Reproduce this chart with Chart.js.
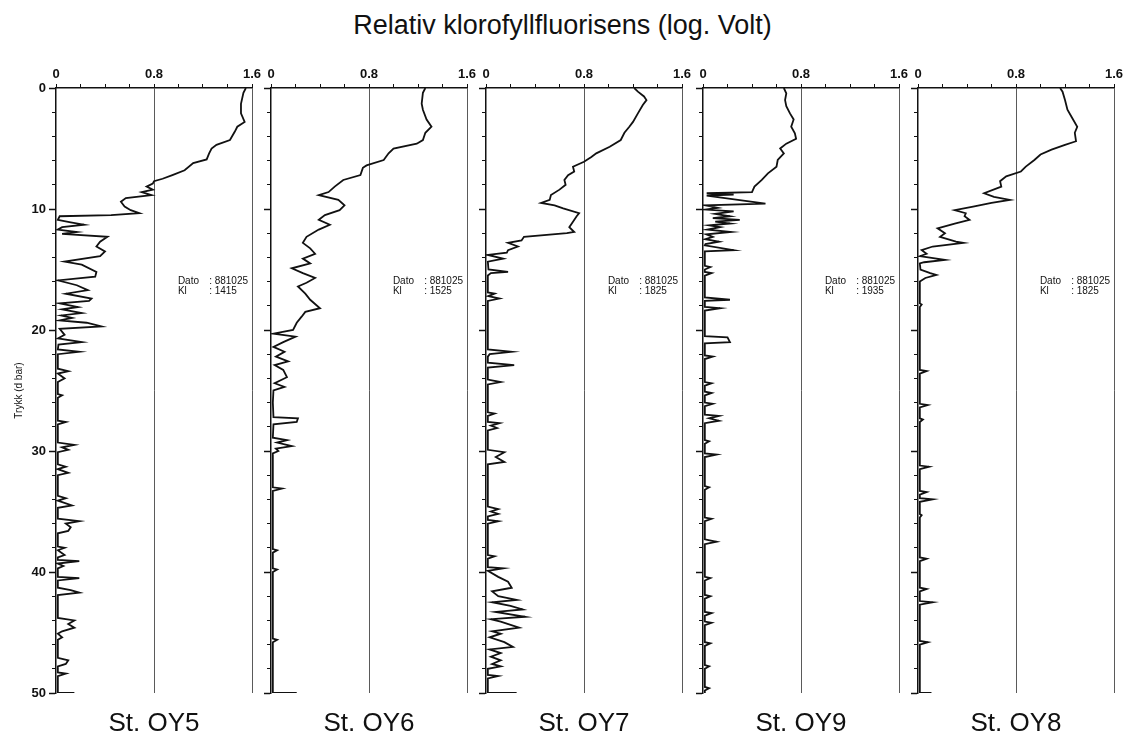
<!DOCTYPE html>
<html>
<head>
<meta charset="utf-8">
<script src="https://cdn.jsdelivr.net/npm/chart.js@4.4.1/dist/chart.umd.min.js"></script>
<style>
html,body{margin:0;padding:0;background:#fff;}
#wrap{position:relative;width:1129px;height:739px;overflow:hidden;background:#fff;}
#wrap canvas{position:absolute;left:0;top:0;}
#title{position:absolute;left:0;width:1125px;top:10px;line-height:31px;text-align:center;font-family:"Liberation Sans",Arial,sans-serif;font-size:27px;color:#111;}
</style>
</head>
<body>
<div id="wrap">
  <div id="title">Relativ klorofyllfluorisens (log. Volt)</div>
  <canvas id="c0" width="1129" height="739"></canvas>
  <canvas id="c1" width="1129" height="739"></canvas>
  <canvas id="c2" width="1129" height="739"></canvas>
  <canvas id="c3" width="1129" height="739"></canvas>
  <canvas id="c4" width="1129" height="739"></canvas>
</div>
<script>
// ---------- DATA ----------
const stationNames = ['St. OY5', 'St. OY6', 'St. OY7', 'St. OY9', 'St. OY8'];
const infoLabels = ['Dato', 'Kl'];
const infoDates = ['881025', '881025', '881025', '881025', '881025'];
const infoTimes = ['1415', '1525', '1825', '1935', '1825'];
const xTickLabels = ['0', '0.8', '1.6'];
const yAxisTitle = 'Trykk (d bar)';

// St. OY5
const oy5Depth = [0,0.4,1.3,2.1,2.8,3.2,3.6,4.3,4.7,5.0,5.4,5.9,6.2,6.8,7.2,7.5,7.7,7.9,8.15,8.4,8.6,8.85,9.1,9.4,9.8,10.1,10.35,10.5,10.6,10.9,11.1,11.3,11.5,11.7,11.9,12.05,12.3,12.7,13.1,13.5,13.9,14.35,14.6,15.2,15.6,15.9,16.3,16.7,17.0,17.4,17.6,17.8,18.1,18.3,18.6,18.8,19.0,19.2,19.4,19.7,19.9,20.4,20.7,21.0,21.2,21.6,21.8,22.0,23.2,23.4,23.6,24.0,24.3,25.3,25.4,25.6,27.5,27.6,27.8,29.3,29.5,29.7,29.9,30.1,31.1,31.3,31.5,31.8,32.0,33.7,33.9,34.1,34.5,34.7,35.6,35.8,36.0,36.3,36.6,36.8,37.9,38.0,38.2,38.6,38.8,39.0,39.1,39.3,39.5,39.7,40.4,40.5,40.7,41.3,41.5,41.7,41.9,43.8,44.0,44.3,44.6,44.9,45.1,45.4,45.6,47.1,47.3,47.6,47.8,48.3,48.4,48.6,50,50];
const oy5Value = [1.55,1.53,1.51,1.51,1.54,1.48,1.46,1.42,1.31,1.27,1.25,1.23,1.12,1.05,0.95,0.87,0.80,0.79,0.74,0.79,0.70,0.78,0.57,0.53,0.56,0.61,0.68,0.45,0.03,0.015,0.12,0.23,0.05,0.015,0.17,0.05,0.42,0.36,0.33,0.40,0.36,0.07,0.21,0.33,0.32,0.015,0.17,0.26,0.08,0.29,0.27,0.03,0.18,0.05,0.21,0.04,0.13,0.03,0.25,0.37,0.03,0.07,0.015,0.21,0.02,0.015,0.19,0.015,0.015,0.10,0.015,0.07,0.015,0.015,0.05,0.015,0.015,0.08,0.015,0.015,0.15,0.05,0.10,0.015,0.015,0.08,0.015,0.10,0.015,0.015,0.08,0.015,0.13,0.015,0.015,0.19,0.08,0.12,0.10,0.015,0.015,0.07,0.015,0.07,0.015,0.015,0.19,0.015,0.06,0.015,0.015,0.19,0.015,0.015,0.12,0.19,0.015,0.015,0.15,0.10,0.15,0.05,0.015,0.05,0.015,0.015,0.10,0.08,0.015,0.015,0.08,0.015,0.015,0.15];

// St. OY6
const oy6Depth = [0,0.4,1.3,1.8,2.6,3.2,3.7,4.3,4.6,5.0,5.4,5.95,6.4,6.6,7.2,7.6,8.15,8.6,8.85,9.25,9.7,10.1,10.5,10.9,11.3,11.7,12.3,12.8,13.25,13.7,14.1,14.5,14.9,15.3,15.7,16.1,16.4,17.0,17.5,18.2,18.5,18.9,19.4,20.0,20.3,20.55,21.0,21.4,21.8,22.2,22.6,22.9,23.3,23.9,24.4,24.7,25.0,26.0,27.2,27.3,27.6,27.8,28.9,29.1,29.3,29.6,29.8,30.0,30.2,33.0,33.1,33.3,38.1,38.2,38.4,39.7,39.8,40.0,45.5,45.6,45.8,50,50];
const oy6Value = [1.26,1.24,1.23,1.24,1.27,1.31,1.26,1.24,1.19,1.00,0.96,0.92,0.78,0.75,0.73,0.59,0.52,0.47,0.39,0.55,0.60,0.56,0.44,0.39,0.48,0.39,0.29,0.26,0.32,0.36,0.26,0.32,0.17,0.26,0.36,0.29,0.22,0.28,0.32,0.40,0.28,0.25,0.21,0.18,0.02,0.20,0.10,0.02,0.11,0.04,0.14,0.03,0.10,0.13,0.03,0.11,0.02,0.015,0.02,0.22,0.21,0.02,0.015,0.13,0.05,0.17,0.04,0.06,0.015,0.015,0.09,0.015,0.015,0.05,0.015,0.015,0.05,0.015,0.015,0.05,0.015,0.015,0.21];

// St. OY7
const oy7Depth = [0,0.3,0.7,1.0,1.4,2.1,2.8,3.2,3.7,4.3,4.85,5.4,5.7,6.1,6.5,6.9,7.2,7.6,8.0,8.4,8.85,9.25,9.5,9.7,9.95,10.35,10.6,11.05,11.5,11.9,12.0,12.3,12.6,12.8,13.1,13.4,13.6,13.8,14.1,14.35,15.0,15.2,15.3,15.5,16.9,17.0,17.2,17.4,17.6,21.6,21.8,22.0,22.2,22.7,22.9,23.1,24.1,24.3,24.5,26.8,26.9,27.1,27.6,27.7,27.9,28.1,28.3,29.9,30.1,30.5,30.9,31.1,34.6,34.8,35.0,35.2,35.4,35.7,35.8,36.0,38.6,38.7,38.9,39.6,39.7,39.9,40.4,40.8,41.3,41.6,42.0,42.3,42.5,42.8,43.1,43.3,43.7,43.9,44.1,44.6,44.9,45.1,45.4,45.8,46.2,46.4,46.7,47.0,47.3,47.6,47.8,48.0,48.5,48.6,48.8,50,50];
const oy7Value = [1.21,1.24,1.29,1.31,1.28,1.24,1.20,1.17,1.13,1.10,1.01,0.90,0.86,0.80,0.71,0.72,0.67,0.64,0.65,0.60,0.53,0.52,0.45,0.56,0.63,0.76,0.74,0.71,0.68,0.72,0.66,0.31,0.29,0.18,0.26,0.18,0.17,0.015,0.14,0.015,0.02,0.18,0.04,0.015,0.015,0.07,0.02,0.11,0.015,0.015,0.21,0.03,0.015,0.015,0.23,0.015,0.015,0.12,0.015,0.015,0.07,0.015,0.015,0.11,0.04,0.09,0.015,0.015,0.15,0.08,0.15,0.015,0.015,0.10,0.04,0.10,0.015,0.015,0.10,0.015,0.015,0.07,0.015,0.015,0.14,0.015,0.10,0.18,0.21,0.05,0.10,0.25,0.05,0.20,0.30,0.08,0.32,0.04,0.12,0.27,0.05,0.12,0.03,0.15,0.22,0.03,0.12,0.04,0.12,0.05,0.12,0.015,0.015,0.10,0.015,0.015,0.25];

// St. OY9
const oy9Depth = [0,0.44,1.0,1.5,2.1,2.6,3.2,3.75,4.2,4.6,5.0,5.4,5.95,6.5,7.05,7.6,8.15,8.6,8.7,8.8,8.9,9.55,9.7,9.9,10.05,10.2,10.4,10.6,10.75,10.9,11.05,11.2,11.35,11.5,11.7,11.9,12.1,12.3,12.5,12.7,12.9,13.0,13.4,13.5,14.7,14.8,15.0,15.2,15.3,15.5,17.3,17.5,17.6,18.1,18.2,18.4,20.5,20.6,21.0,21.1,22.1,22.2,22.4,24.3,24.4,24.6,25.1,25.2,25.4,26.0,26.1,26.3,27.0,27.1,27.3,27.5,27.7,29.1,29.2,29.4,30.2,30.3,30.5,32.9,33.0,33.2,35.5,35.6,35.8,37.3,37.5,37.7,40.4,40.5,40.7,41.9,42.0,42.2,43.3,43.4,43.6,44.1,44.2,44.4,45.8,45.9,46.1,47.7,47.8,48.0,49.5,49.6,49.8,50];
const oy9Value = [0.66,0.68,0.67,0.68,0.71,0.74,0.72,0.75,0.76,0.68,0.63,0.66,0.61,0.60,0.53,0.48,0.42,0.40,0.03,0.25,0.03,0.51,0.02,0.12,0.02,0.25,0.10,0.22,0.08,0.30,0.10,0.22,0.05,0.14,0.04,0.23,0.03,0.08,0.02,0.13,0.02,0.015,0.25,0.015,0.015,0.06,0.015,0.015,0.07,0.015,0.015,0.22,0.015,0.015,0.14,0.015,0.015,0.20,0.22,0.015,0.015,0.08,0.015,0.015,0.07,0.015,0.015,0.07,0.015,0.015,0.08,0.015,0.015,0.13,0.05,0.13,0.015,0.015,0.05,0.015,0.015,0.11,0.015,0.015,0.05,0.015,0.015,0.07,0.015,0.015,0.11,0.015,0.015,0.06,0.015,0.015,0.06,0.015,0.015,0.07,0.015,0.015,0.07,0.015,0.015,0.06,0.015,0.015,0.05,0.015,0.015,0.05,0.015,0.015];

// St. OY8
const oy8Depth = [0,0.3,1.0,1.8,2.5,3.2,3.7,4.4,4.7,5.1,5.5,5.95,6.5,6.9,7.3,7.7,8.15,8.7,9.0,9.25,9.5,9.8,10.1,10.35,10.6,10.9,11.2,11.6,12.0,12.3,12.7,12.8,13.1,13.4,13.7,13.9,14.2,14.4,14.5,15.0,15.3,15.45,15.7,16.0,17.8,17.9,18.1,23.3,23.4,23.6,26.1,26.2,26.4,27.3,27.4,27.6,31.2,31.3,31.5,33.3,33.4,33.6,33.9,34.0,34.2,35.2,35.3,35.5,38.8,38.9,39.1,41.3,41.4,41.6,42.4,42.5,42.7,45.7,45.8,46.0,50,50];
const oy8Value = [1.16,1.18,1.20,1.22,1.26,1.30,1.28,1.29,1.20,1.09,1.00,0.95,0.88,0.84,0.72,0.67,0.68,0.54,0.62,0.75,0.60,0.45,0.30,0.39,0.38,0.42,0.30,0.16,0.22,0.18,0.31,0.37,0.12,0.03,0.07,0.015,0.22,0.05,0.015,0.02,0.10,0.15,0.06,0.015,0.015,0.03,0.015,0.015,0.07,0.015,0.015,0.08,0.015,0.015,0.04,0.015,0.015,0.09,0.015,0.015,0.07,0.015,0.015,0.12,0.015,0.015,0.03,0.015,0.015,0.07,0.015,0.015,0.07,0.015,0.015,0.12,0.015,0.015,0.08,0.015,0.015,0.11];

const depths = [oy5Depth, oy6Depth, oy7Depth, oy9Depth, oy8Depth];
const values = [oy5Value, oy6Value, oy7Value, oy9Value, oy8Value];

// ---------- LAYOUT ----------
const W = 1129, H = 739;
const panelLeft = [56, 271, 486, 703, 918];
const panelRight = [252, 467, 682, 899, 1114];
const plotTop = 88, plotBottom = 693;
const FONT = '"Liberation Sans", Arial, Helvetica, sans-serif';
const INK = '#111';

function near(a, b) { return Math.abs(a - b) < 1e-6; }

const infoPlugin = {
  id: 'info',
  afterDatasetsDraw(chart) {
    const idx = chart.options.plugins.info.idx;
    const {ctx, scales: {x, y}} = chart;
    ctx.save();
    ctx.font = '10px ' + FONT;
    ctx.fillStyle = INK;
    ctx.textBaseline = 'middle';
    ctx.textAlign = 'left';
    const rowDepth = [15.95, 16.8];
    const rowVals = [infoDates[idx], infoTimes[idx]];
    for (let k = 0; k < infoLabels.length; k++) {
      const py = y.getPixelForValue(rowDepth[k]);
      ctx.fillText(infoLabels[k], x.getPixelForValue(0.995), py);
      ctx.fillText(': ' + rowVals[k], x.getPixelForValue(1.25), py);
    }
    ctx.restore();
  }
};

function makePanel(i) {
  const yW = i === 0 ? 43 : 10;
  const pts = depths[i].map((d, k) => ({x: values[i][k], y: d}));
  return new Chart(document.getElementById('c' + i), {
    type: 'scatter',
    data: {
      datasets: [{
        data: pts,
        showLine: true,
        borderColor: INK,
        borderWidth: 1.8,
        pointRadius: 0,
        pointHoverRadius: 0,
        tension: 0,
        fill: false,
        xAxisID: 'x',
        yAxisID: 'y'
      }]
    },
    options: {
      responsive: false,
      animation: false,
      devicePixelRatio: 1,
      events: [],
      layout: {padding: {left: panelLeft[i] - yW, right: W - panelRight[i], top: plotTop - 30, bottom: 0}},
      plugins: {
        legend: {display: false},
        tooltip: {enabled: false},
        info: {idx: i}
      },
      scales: {
        x: {
          type: 'linear', position: 'top', min: 0, max: 1.6,
          afterFit: s => { s.height = 30; },
          ticks: {
            stepSize: 0.2, autoSkip: false, maxRotation: 0, padding: 2, color: INK,
            font: {size: 13, weight: 'bold', family: FONT},
            callback: v => near(v, 0) ? xTickLabels[0] : near(v, 0.8) ? xTickLabels[1] : near(v, 1.6) ? xTickLabels[2] : ''
          },
          grid: {
            drawOnChartArea: true, drawTicks: true, tickLength: 4, tickColor: INK, tickWidth: 1,
            lineWidth: 1,
            color: c => (c.tick && (near(c.tick.value, 0.8) || near(c.tick.value, 1.6))) ? '#5a5a5a' : 'rgba(0,0,0,0)'
          },
          border: {display: true, color: INK, width: 1.5}
        },
        x2: {
          type: 'linear', position: 'bottom', min: 0, max: 1.6,
          afterFit: s => { s.height = H - plotBottom; },
          ticks: {display: false},
          grid: {display: false},
          border: {display: false},
          title: {display: true, text: stationNames[i], color: INK, font: {size: 26, family: FONT}, padding: 0}
        },
        y: {
          type: 'linear', position: 'left', reverse: true, min: 0, max: 50,
          afterFit: s => { s.width = yW; },
          ticks: {
            stepSize: 2, autoSkip: false, padding: 3, color: INK,
            font: {size: 13, weight: 'bold', family: FONT},
            callback: v => (i === 0 && v % 10 === 0) ? String(v) : ''
          },
          grid: {
            drawOnChartArea: false, drawTicks: true, tickLength: 7, tickColor: INK,
            tickWidth: c => (c.tick && c.tick.value % 10 === 0) ? 1.5 : 1,
            tickBorderDash: c => (c.tick && c.tick.value % 10 === 0) ? [] : [0, 3, 4, 20]
          },
          border: {display: true, color: INK, width: 1.5},
          title: {display: i === 0, text: yAxisTitle, color: INK, font: {size: 10, family: FONT}, padding: 0}
        }
      }
    },
    plugins: [infoPlugin]
  });
}

for (let i = 0; i < 5; i++) makePanel(i);
</script>
</body>
</html>
